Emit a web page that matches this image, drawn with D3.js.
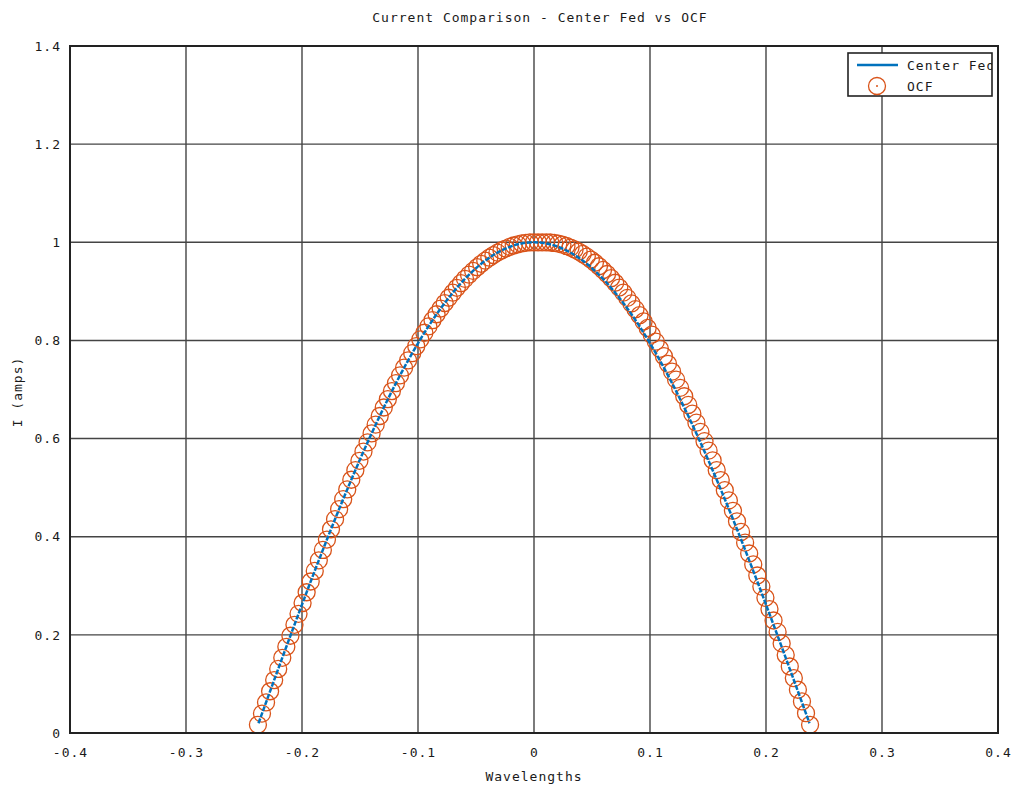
<!DOCTYPE html>
<html>
<head>
<meta charset="utf-8">
<script src="https://cdn.jsdelivr.net/npm/d3@7"></script>
<style>
  body { margin: 0; background: #fff; }
  text { font-family: "DejaVu Sans Mono", monospace; font-size: 13px; fill: #1a1a1a; letter-spacing: 1px; }
</style>
</head>
<body>
<div id="chart"></div>
<script>
const title = "Current Comparison - Center Fed vs OCF"
const xLabel = "Wavelengths"
const yLabel = "I (amps)"
const seriesNames = ["Center Fed", "OCF"]

const xTicks = [-0.4, -0.3, -0.2, -0.1, 0, 0.1, 0.2, 0.3, 0.4]
const xTickLabels = ["-0.4", "-0.3", "-0.2", "-0.1", "0", "0.1", "0.2", "0.3", "0.4"]
const yTicks = [0, 0.2, 0.4, 0.6, 0.8, 1, 1.2, 1.4]
const yTickLabels = ["0", "0.2", "0.4", "0.6", "0.8", "1", "1.2", "1.4"]

// center fed current (line)
const cfX = [-0.2375, -0.23, -0.22, -0.21, -0.20, -0.19, -0.18, -0.17, -0.16, -0.15,
  -0.14, -0.13, -0.12, -0.11, -0.10, -0.09, -0.08, -0.07, -0.06, -0.05,
  -0.04, -0.03, -0.02, -0.01, 0,
  0.01, 0.02, 0.03, 0.04, 0.05, 0.06, 0.07, 0.08, 0.09, 0.10,
  0.11, 0.12, 0.13, 0.14, 0.15, 0.16, 0.17, 0.18, 0.19, 0.20,
  0.21, 0.22, 0.23, 0.2375]
const cfI = [0.0199, 0.0688, 0.1338, 0.1982, 0.2617, 0.3243, 0.3853, 0.4447, 0.5021, 0.5574,
  0.6104, 0.6608, 0.7084, 0.7529, 0.7942, 0.8322, 0.8666, 0.8973, 0.9242, 0.9472,
  0.9661, 0.9809, 0.9915, 0.9979, 1.0000,
  0.9979, 0.9915, 0.9809, 0.9661, 0.9472, 0.9242, 0.8973, 0.8666, 0.8322, 0.7942,
  0.7529, 0.7084, 0.6608, 0.6104, 0.5574, 0.5021, 0.4447, 0.3853, 0.3243, 0.2617,
  0.1982, 0.1338, 0.0688, 0.0199]

// off-center fed current (markers)
const ocfX = [-0.2380, -0.2345, -0.2310, -0.2275, -0.2240, -0.2205, -0.2170, -0.2135, -0.2100, -0.2065,
  -0.2030, -0.1995, -0.1960, -0.1925, -0.1890, -0.1855, -0.1820, -0.1785, -0.1750, -0.1715,
  -0.1680, -0.1645, -0.1610, -0.1575, -0.1540, -0.1505, -0.1470, -0.1435, -0.1400, -0.1365,
  -0.1330, -0.1295, -0.1260, -0.1225, -0.1190, -0.1155, -0.1120, -0.1085, -0.1050, -0.1015,
  -0.0980, -0.0945, -0.0910, -0.0875, -0.0840, -0.0805, -0.0770, -0.0735, -0.0700, -0.0665,
  -0.0630, -0.0595, -0.0560, -0.0525, -0.0490, -0.0455, -0.0420, -0.0385, -0.0350, -0.0315,
  -0.0280, -0.0245, -0.0210, -0.0175, -0.0140, -0.0105, -0.0070, -0.0035, 0.0000,
  0.0035, 0.0070, 0.0105, 0.0140, 0.0175, 0.0210, 0.0245, 0.0280, 0.0315, 0.0350,
  0.0385, 0.0420, 0.0455, 0.0490, 0.0525, 0.0560, 0.0595, 0.0630, 0.0665, 0.0700,
  0.0735, 0.0770, 0.0805, 0.0840, 0.0875, 0.0910, 0.0945, 0.0980, 0.1015, 0.1050,
  0.1085, 0.1120, 0.1155, 0.1190, 0.1225, 0.1260, 0.1295, 0.1330, 0.1365, 0.1400,
  0.1435, 0.1470, 0.1505, 0.1540, 0.1575, 0.1610, 0.1645, 0.1680, 0.1715, 0.1750,
  0.1785, 0.1820, 0.1855, 0.1890, 0.1925, 0.1960, 0.1995, 0.2030, 0.2065, 0.2100,
  0.2135, 0.2170, 0.2205, 0.2240, 0.2275, 0.2310, 0.2345, 0.2380]
const ocfI = [0.0167, 0.0395, 0.0623, 0.0851, 0.1079, 0.1306, 0.1532, 0.1757, 0.1982, 0.2205,
  0.2428, 0.2649, 0.2868, 0.3087, 0.3303, 0.3518, 0.3731, 0.3942, 0.4151, 0.4358,
  0.4562, 0.4765, 0.4964, 0.5161, 0.5356, 0.5547, 0.5736, 0.5922, 0.6104, 0.6284,
  0.6460, 0.6633, 0.6802, 0.6968, 0.7130, 0.7288, 0.7444, 0.7594, 0.7741, 0.7883,
  0.8022, 0.8156, 0.8286, 0.8412, 0.8533, 0.8650, 0.8762, 0.8870, 0.8973, 0.9072,
  0.9166, 0.9255, 0.9339, 0.9418, 0.9492, 0.9562, 0.9626, 0.9686, 0.9740, 0.9789,
  0.9833, 0.9872, 0.9906, 0.9935, 0.9958, 0.9977, 0.9990, 0.9997, 1.0000,
  1.0000, 1.0000, 1.0000, 0.9996, 0.9987, 0.9972, 0.9951, 0.9924, 0.9892, 0.9854,
  0.9811, 0.9762, 0.9708, 0.9648, 0.9583, 0.9512, 0.9436, 0.9354, 0.9268, 0.9175,
  0.9078, 0.8975, 0.8867, 0.8754, 0.8637, 0.8514, 0.8387, 0.8254, 0.8117, 0.7976,
  0.7829, 0.7679, 0.7524, 0.7365, 0.7201, 0.7033, 0.6862, 0.6686, 0.6507, 0.6324,
  0.6137, 0.5947, 0.5754, 0.5557, 0.5358, 0.5154, 0.4948, 0.4740, 0.4528, 0.4314,
  0.4098, 0.3879, 0.3658, 0.3435, 0.3210, 0.2983, 0.2755, 0.2525, 0.2293, 0.2060,
  0.1826, 0.1591, 0.1355, 0.1119, 0.0881, 0.0643, 0.0405, 0.0167]

const blue = "#0072bd"
const orange = "#d95319"

const width = 1015
const height = 787
const margin = {top: 46, right: 17, bottom: 54, left: 70}

const cfData = cfX.map((x, i) => ({x, y: cfI[i]}))
const ocfData = ocfX.map((x, i) => ({x, y: ocfI[i]}))

const svg = d3.select("#chart")
  .append("svg")
  .attr("width", width)
  .attr("height", height)

svg.append("rect")
  .attr("width", width)
  .attr("height", height)
  .attr("fill", "#fff")

const x = d3.scaleLinear()
  .domain([-0.4, 0.4])
  .range([margin.left, width - margin.right])

const y = d3.scaleLinear()
  .domain([0, 1.4])
  .range([height - margin.bottom, margin.top])

// grid
const grid = svg.append("g")
  .attr("stroke", "#444")
  .attr("stroke-width", 1.4)
grid.selectAll(".vx")
  .data(xTicks)
  .join("line")
  .attr("x1", d => x(d))
  .attr("x2", d => x(d))
  .attr("y1", y(0))
  .attr("y2", y(1.4))
grid.selectAll(".hy")
  .data(yTicks)
  .join("line")
  .attr("x1", x(-0.4))
  .attr("x2", x(0.4))
  .attr("y1", d => y(d))
  .attr("y2", d => y(d))

// axes labels
svg.append("g")
  .attr("transform", `translate(0,${height - margin.bottom})`)
  .call(d3.axisBottom(x).tickValues(xTicks).tickFormat((d, i) => xTickLabels[i]).tickSize(0).tickPadding(15))
  .call(g => g.select(".domain").remove())
  .call(g => g.selectAll("text").attr("font-size", null).attr("font-family", null))

svg.append("g")
  .attr("transform", `translate(${margin.left},0)`)
  .call(d3.axisLeft(y).tickValues(yTicks).tickFormat((d, i) => yTickLabels[i]).tickSize(0).tickPadding(9))
  .call(g => g.select(".domain").remove())
  .call(g => g.selectAll("text").attr("font-size", null).attr("font-family", null))

// OCF markers
svg.append("g")
  .attr("fill", "none")
  .attr("stroke", orange)
  .attr("stroke-width", 1.3)
  .selectAll("circle")
  .data(ocfData)
  .join("circle")
  .attr("cx", d => x(d.x))
  .attr("cy", d => y(d.y))
  .attr("r", 8.5)

// center fed line
const line = d3.line()
  .x(d => x(d.x))
  .y(d => y(d.y))
  .curve(d3.curveMonotoneX)

svg.append("path")
  .datum(cfData)
  .attr("fill", "none")
  .attr("stroke", blue)
  .attr("stroke-width", 2.5)
  .attr("stroke-dasharray", "5,1.5")
  .attr("d", line)

// frame
svg.append("rect")
  .attr("x", x(-0.4))
  .attr("y", y(1.4))
  .attr("width", x(0.4) - x(-0.4))
  .attr("height", y(0) - y(1.4))
  .attr("fill", "none")
  .attr("stroke", "#222")
  .attr("stroke-width", 2)

// titles
svg.append("text")
  .attr("x", 540)
  .attr("y", 22)
  .attr("text-anchor", "middle")
  .text(title)

svg.append("text")
  .attr("x", (x(-0.4) + x(0.4)) / 2)
  .attr("y", 781)
  .attr("text-anchor", "middle")
  .text(xLabel)

svg.append("text")
  .attr("transform", "translate(22,392) rotate(-90)")
  .attr("text-anchor", "middle")
  .text(yLabel)

// legend
const legend = svg.append("g")
svg.append("clipPath")
  .attr("id", "legclip")
  .append("rect")
  .attr("x", 848).attr("y", 53).attr("width", 144).attr("height", 43)

legend.append("rect")
  .attr("x", 848).attr("y", 53).attr("width", 144).attr("height", 43)
  .attr("fill", "#fff")
  .attr("stroke", "#222")
  .attr("stroke-width", 1.6)

legend.append("line")
  .attr("x1", 857).attr("x2", 898)
  .attr("y1", 65).attr("y2", 65)
  .attr("stroke", blue)
  .attr("stroke-width", 2.5)

legend.append("circle")
  .attr("cx", 877).attr("cy", 86).attr("r", 8.5)
  .attr("fill", "none")
  .attr("stroke", orange)
  .attr("stroke-width", 1.3)
legend.append("circle")
  .attr("cx", 877).attr("cy", 86).attr("r", 1)
  .attr("fill", orange)

legend.append("g")
  .attr("clip-path", "url(#legclip)")
  .selectAll("text")
  .data(seriesNames)
  .join("text")
  .attr("x", 907)
  .attr("y", (d, i) => 70 + i * 21)
  .text(d => d)
</script>
</body>
</html>
